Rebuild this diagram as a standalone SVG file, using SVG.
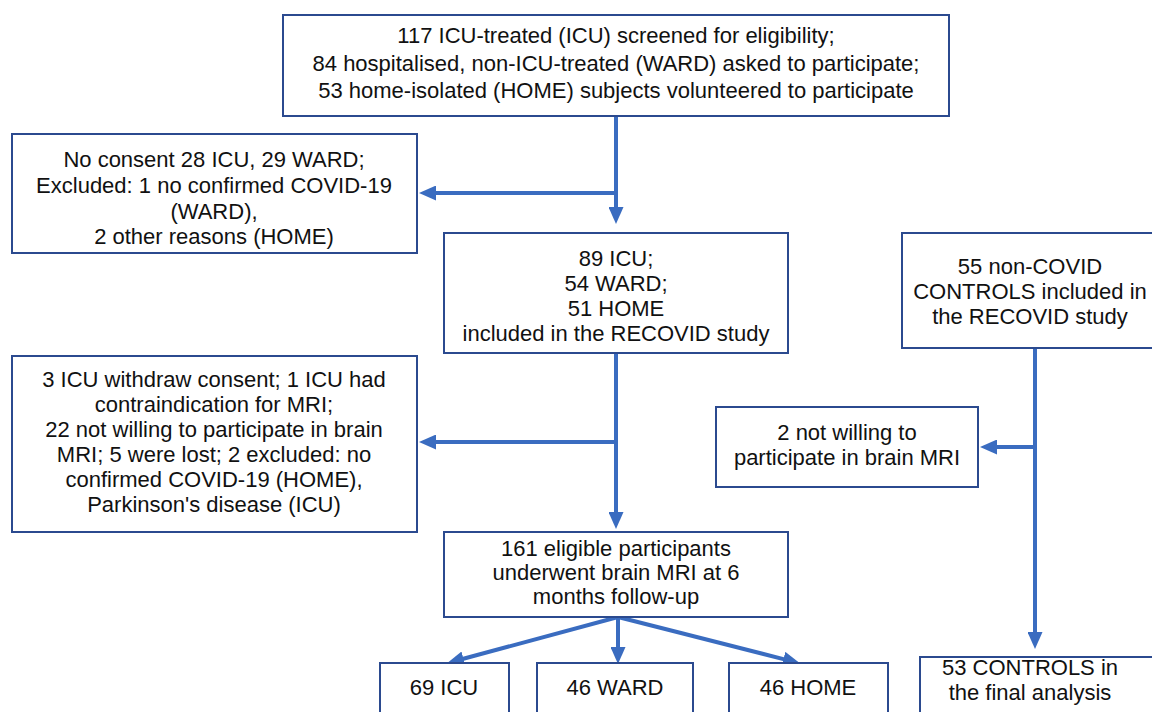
<svg xmlns="http://www.w3.org/2000/svg" width="1152" height="712" viewBox="0 0 1152 712">
<style>
.box{fill:#ffffff;stroke:#2b4a8f;stroke-width:2}
.t{font-family:"Liberation Sans",Arial,Helvetica,sans-serif;font-size:22px;fill:#111111;text-anchor:middle}
.c{stroke:#3a6cc0;stroke-width:4;fill:none}
</style>
<defs>
<marker id="ah" markerUnits="userSpaceOnUse" markerWidth="17" markerHeight="15" refX="2" refY="7.5" orient="auto">
<path d="M0,0 L17,7.5 L0,15 Z" fill="#3a6cc0"/>
</marker>
</defs>
<rect width="1152" height="712" fill="#ffffff"/>
<g id="connectors">
<line class="c" x1="616" y1="116" x2="616" y2="209" marker-end="url(#ah)"/>
<line class="c" x1="616" y1="193" x2="434" y2="193" marker-end="url(#ah)"/>
<line class="c" x1="616" y1="353" x2="616" y2="514" marker-end="url(#ah)"/>
<line class="c" x1="616" y1="442" x2="434" y2="442" marker-end="url(#ah)"/>
<line class="c" x1="618" y1="617" x2="461.5" y2="659.3" marker-end="url(#ah)"/>
<line class="c" x1="618" y1="617" x2="618" y2="649" marker-end="url(#ah)"/>
<line class="c" x1="618" y1="617" x2="785.4" y2="659.6" marker-end="url(#ah)"/>
<line class="c" x1="1035" y1="348" x2="1035" y2="634" marker-end="url(#ah)"/>
<line class="c" x1="1035" y1="447" x2="995" y2="447" marker-end="url(#ah)"/>
</g>
<g id="screened">
<rect class="box" x="283" y="15" width="666" height="101"/>
<text class="t" x="616" y="43">117 ICU-treated (ICU) screened for eligibility;</text>
<text class="t" x="616" y="71">84 hospitalised, non-ICU-treated (WARD) asked to participate;</text>
<text class="t" x="616" y="98">53 home-isolated (HOME) subjects volunteered to participate</text>
</g>
<g id="excluded1">
<rect class="box" x="12" y="134" width="405" height="119"/>
<text class="t" x="214" y="167">No consent 28 ICU, 29 WARD;</text>
<text class="t" x="214" y="193">Excluded: 1 no confirmed COVID-19</text>
<text class="t" x="214" y="219">(WARD),</text>
<text class="t" x="214" y="244">2 other reasons (HOME)</text>
</g>
<g id="included">
<rect class="box" x="444" y="233" width="344" height="120"/>
<text class="t" x="616" y="266">89 ICU;</text>
<text class="t" x="616" y="291">54 WARD;</text>
<text class="t" x="616" y="316">51 HOME</text>
<text class="t" x="616" y="341">included in the RECOVID study</text>
</g>
<g id="controls">
<rect class="box" x="902" y="233" width="260" height="115"/>
<text class="t" x="1030" y="274">55 non-COVID</text>
<text class="t" x="1030" y="299">CONTROLS included in</text>
<text class="t" x="1030" y="324">the RECOVID study</text>
</g>
<g id="excluded2">
<rect class="box" x="12" y="356" width="405" height="176"/>
<text class="t" x="214" y="387">3 ICU withdraw consent; 1 ICU had</text>
<text class="t" x="214" y="412">contraindication for MRI;</text>
<text class="t" x="214" y="437">22 not willing to participate in brain</text>
<text class="t" x="214" y="462">MRI; 5 were lost; 2 excluded: no</text>
<text class="t" x="214" y="487">confirmed COVID-19 (HOME),</text>
<text class="t" x="214" y="512">Parkinson's disease (ICU)</text>
</g>
<g id="controls-excluded">
<rect class="box" x="716" y="407" width="262" height="80"/>
<text class="t" x="847" y="440">2 not willing to</text>
<text class="t" x="847" y="465">participate in brain MRI</text>
</g>
<g id="mri">
<rect class="box" x="444" y="532" width="344" height="85"/>
<text class="t" x="616" y="556">161 eligible participants</text>
<text class="t" x="616" y="580">underwent brain MRI at 6</text>
<text class="t" x="616" y="604">months follow-up</text>
</g>
<g id="icu">
<rect class="box" x="380" y="663" width="129" height="60"/>
<text class="t" x="444" y="695">69 ICU</text>
</g>
<g id="ward">
<rect class="box" x="537" y="663" width="156" height="60"/>
<text class="t" x="615" y="695">46 WARD</text>
</g>
<g id="home">
<rect class="box" x="729" y="663" width="159" height="60"/>
<text class="t" x="808" y="695">46 HOME</text>
</g>
<g id="controls-final">
<rect class="box" x="920" y="657" width="240" height="66"/>
<text class="t" x="1030" y="675">53 CONTROLS in</text>
<text class="t" x="1030" y="700">the final analysis</text>
</g>
</svg>
